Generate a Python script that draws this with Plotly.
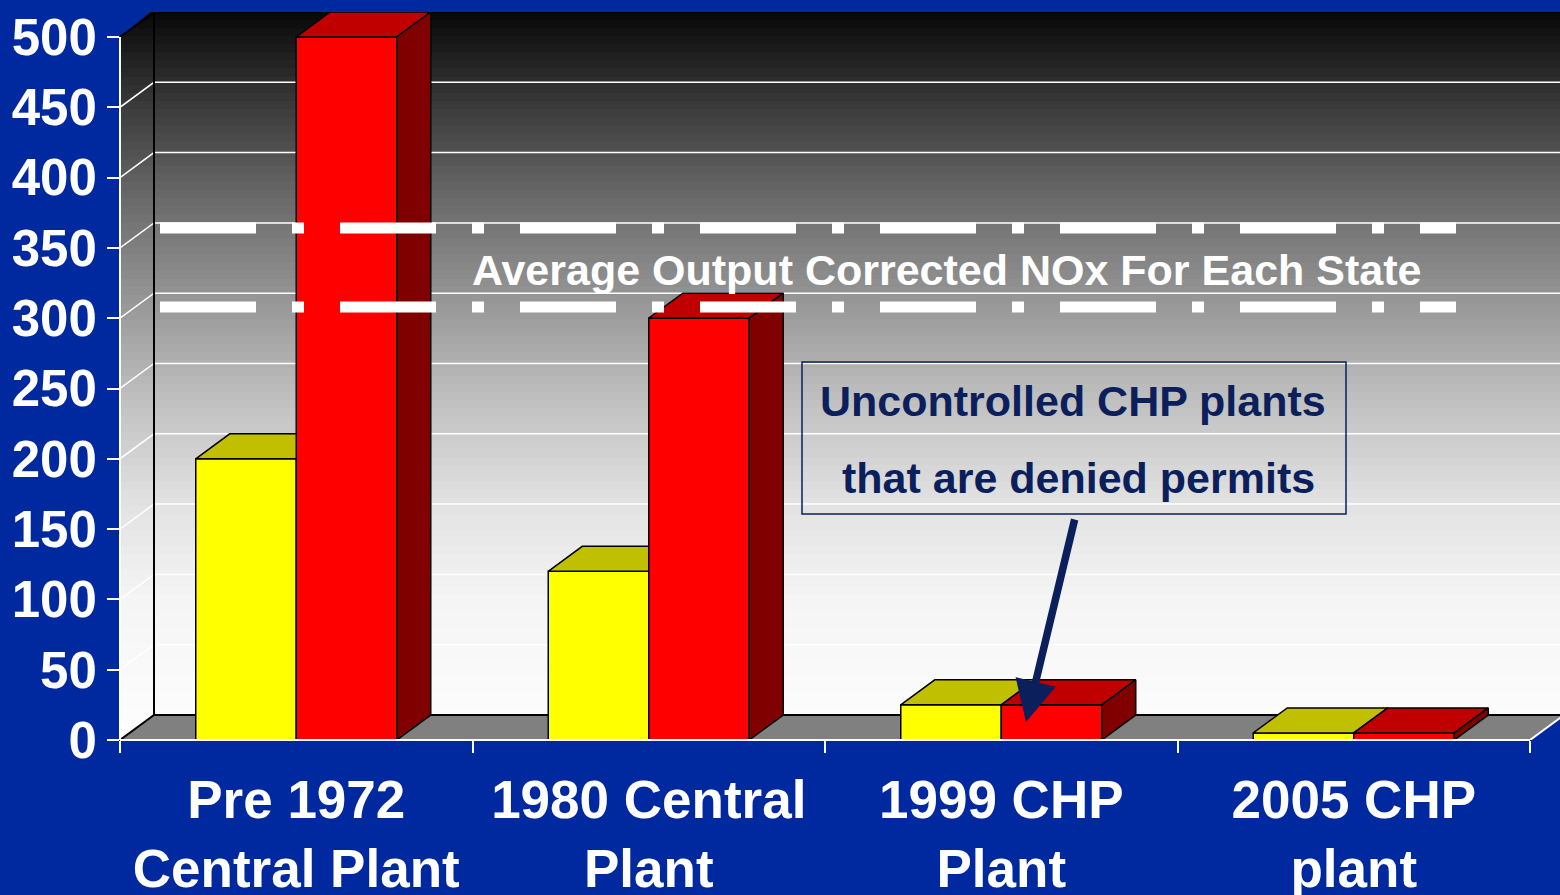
import numpy as np
import plotly.graph_objects as go

# ---------------- data ----------------
categories = ["Pre 1972<br>Central Plant", "1980 Central<br>Plant", "1999 CHP<br>Plant", "2005 CHP<br>plant"]
yellow_values = [200, 120, 25, 5]
red_values = [500, 300, 25, 5]
y_ticks = list(range(0, 501, 50))

# ---------------- geometry / style ----------------
W, H = 1560, 895
L, R, T, B = 120, 1560, 12, 740
CAT_PX = 352.5
PX_PER_UNIT = 703 / 500.0
XMIN = -0.5
XMAX = XMIN + (R - L) / CAT_PX
YMAX = (B - T) / PX_PER_UNIT
DX = 34 / CAT_PX
DY = 25 / PX_PER_UNIT
BW = 100.5 / CAT_PX

BLUE = "#0029A0"
NAVY = "#0B1F5C"
FONT = "Liberation Sans, Arial, sans-serif"


def px_x(px):
    return XMIN + (px - L) / CAT_PX


def px_y(py):
    return (B - py) / PX_PER_UNIT


fig = go.Figure()

# ---------------- 3D bars ----------------
def faces(values, offset):
    fr, tp, sd = ([], [], [])
    for i, v in enumerate(values):
        x0 = i + offset
        x1 = x0 + BW
        fr += [(x0, 0), (x1, 0), (x1, v), (x0, v), (x0, 0), (None, None)]
        tp += [(x0, v), (x1, v), (x1 + DX, v + DY), (x0 + DX, v + DY), (x0, v), (None, None)]
        sd += [(x1, 0), (x1 + DX, DY), (x1 + DX, v + DY), (x1, v), (x1, 0), (None, None)]
    return fr, tp, sd


def poly(pts, color):
    xs = [p[0] for p in pts]
    ys = [p[1] for p in pts]
    return go.Scatter(x=xs, y=ys, mode="lines", fill="toself", fillcolor=color,
                      line=dict(color="black", width=1.5), hoverinfo="skip",
                      showlegend=False, connectgaps=False)


yf, yt, ys_ = faces(yellow_values, -BW)
rf, rt, rs = faces(red_values, 0)
fig.add_trace(poly(ys_, "#808000"))
fig.add_trace(poly(yf, "#FFFF00"))
fig.add_trace(poly(yt, "#C0C000"))
fig.add_trace(poly(rf, "#FF0000"))
fig.add_trace(poly(rt, "#C00000"))
fig.add_trace(poly(rs, "#800000"))

shapes = []

# ---------------- gradient walls ----------------
gy_px = [12, 100, 200, 300, 400, 500, 600, 715, 740]
gy_val = [8, 55, 106, 150, 192, 225, 245, 252, 253]
N = 90
edges = np.linspace(0, YMAX, N + 1)
for k in range(N):
    a, b = edges[k], edges[k + 1]
    mid_px = B - (a + b) / 2 * PX_PER_UNIT
    g = int(round(np.interp(mid_px, gy_px, gy_val)))
    shapes.append(dict(type="rect", xref="paper", yref="y", x0=0, x1=1, y0=a, y1=b + 2,
                       fillcolor=f"rgb({g},{g},{g})", line=dict(width=0), layer="below"))

# blue corners
shapes.append(dict(type="path", xref="x", yref="y", layer="below",
                   path=f"M {XMIN},{500} L {XMIN},{YMAX + 2} L {XMIN + DX},{YMAX + 2} Z",
                   fillcolor=BLUE, line=dict(width=0)))
shapes.append(dict(type="path", xref="x", yref="y", layer="below",
                   path=f"M 3.5,0 L {3.5 + DX},{DY} L {3.5 + DX + 0.2},{DY} L {3.5 + DX + 0.2},-1 L 3.5,-1 Z",
                   fillcolor=BLUE, line=dict(width=0)))
# floor
shapes.append(dict(type="path", xref="x", yref="y", layer="below",
                   path=f"M {XMIN},0 L 3.5,0 L {3.5 + DX},{DY} L {XMIN + DX},{DY} Z",
                   fillcolor="#808080", line=dict(width=0)))
# gridlines
for v in y_ticks[1:-1]:
    shapes.append(dict(type="path", xref="x", yref="y", layer="below",
                       path=f"M {XMIN},{v} L {XMIN + DX},{v + DY} L {XMAX + 0.1},{v + DY}",
                       line=dict(color="white", width=1.5)))
# black wall edges
blk = dict(color="black", width=2)
shapes.append(dict(type="path", xref="x", yref="y", layer="below",
                   path=f"M {XMIN},0 L {XMIN + DX},{DY} L {XMAX + 0.1},{DY}", line=blk))
shapes.append(dict(type="path", xref="x", yref="y", layer="below",
                   path=f"M {XMIN + DX},{DY} L {XMIN + DX},{YMAX}", line=blk))
shapes.append(dict(type="path", xref="x", yref="y", layer="below",
                   path=f"M {XMIN},500 L {XMIN + DX},{YMAX - 0.3} L {XMAX + 0.1},{YMAX - 0.3}", line=blk))

# white axes
wht = dict(color="white", width=2)
shapes.append(dict(type="line", xref="paper", yref="y", x0=0, x1=0, y0=0, y1=500, line=wht, layer="above"))
shapes.append(dict(type="line", xref="x", yref="paper", x0=XMIN, x1=3.5, y0=0, y1=0, line=wht, layer="above"))
shapes.append(dict(type="line", xref="x", yref="y", x0=3.5, x1=3.5 + DX, y0=0, y1=DY, line=wht, layer="above"))

# dash-dot reference lines
for py in (228, 307):
    shapes.append(dict(type="line", xref="x", yref="y", x0=px_x(160), x1=px_x(1456),
                       y0=px_y(py), y1=px_y(py), layer="above",
                       line=dict(color="white", width=11, dash="96px,36px,12px,36px")))

# callout box
shapes.append(dict(type="rect", xref="x", yref="y", x0=px_x(802), x1=px_x(1346),
                   y0=px_y(514), y1=px_y(362), layer="above",
                   line=dict(color=NAVY, width=1.5), fillcolor="rgba(0,0,0,0)"))

annotations = [
    dict(x=px_x(946), y=px_y(270), xref="x", yref="y", showarrow=False,
         text="Average Output Corrected NOx For Each State",
         font=dict(family=FONT, size=43, color="white", weight="bold")),
    dict(x=px_x(1073), y=px_y(401), xref="x", yref="y", showarrow=False,
         text="Uncontrolled CHP plants",
         font=dict(family=FONT, size=43, color=NAVY, weight="bold")),
    dict(x=px_x(1078), y=px_y(478), xref="x", yref="y", showarrow=False,
         text="that are denied permits",
         font=dict(family=FONT, size=43, color=NAVY, weight="bold")),
    dict(x=px_x(1026), y=px_y(722), xref="x", yref="y", text="", showarrow=True,
         ax=49, ay=-204, axref="pixel", ayref="pixel", arrowcolor=NAVY,
         arrowwidth=7.5, arrowhead=2, arrowsize=1.1, standoff=0),
]

fig.update_layout(
    width=W, height=H,
    margin=dict(l=L, r=W - R, t=T, b=H - B, pad=0),
    paper_bgcolor=BLUE, plot_bgcolor=BLUE,
    showlegend=False,
    shapes=shapes, annotations=annotations,
    font=dict(family=FONT, color="white"),
    xaxis=dict(range=[XMIN, XMAX], tickmode="array", tickvals=list(range(len(categories))),
               ticktext=categories, ticks="", showgrid=False, zeroline=False, showline=False,
               tickfont=dict(family=FONT, size=53, color="white", weight="bold"),
               ticklabelstandoff=24, automargin=False, fixedrange=True,
               minor=dict(tickmode="array", tickvals=[-0.5, 0.5, 1.5, 2.5, 3.5], ticks="outside",
                          ticklen=12, tickcolor="white", tickwidth=2, showgrid=False)),
    yaxis=dict(range=[0, YMAX], tickmode="array", tickvals=y_ticks, ticks="outside",
               ticklen=12, tickcolor="white", tickwidth=2, showgrid=False, zeroline=False,
               showline=False, tickfont=dict(family=FONT, size=51, color="white", weight="bold"),
               ticklabelstandoff=0, automargin=False, fixedrange=True),
)

fig.write_html("out.html", config={"displayModeBar": False},
               post_script="document.body.style.margin='0';document.body.style.overflow='hidden';"
                           "document.body.style.background='" + BLUE + "';")
